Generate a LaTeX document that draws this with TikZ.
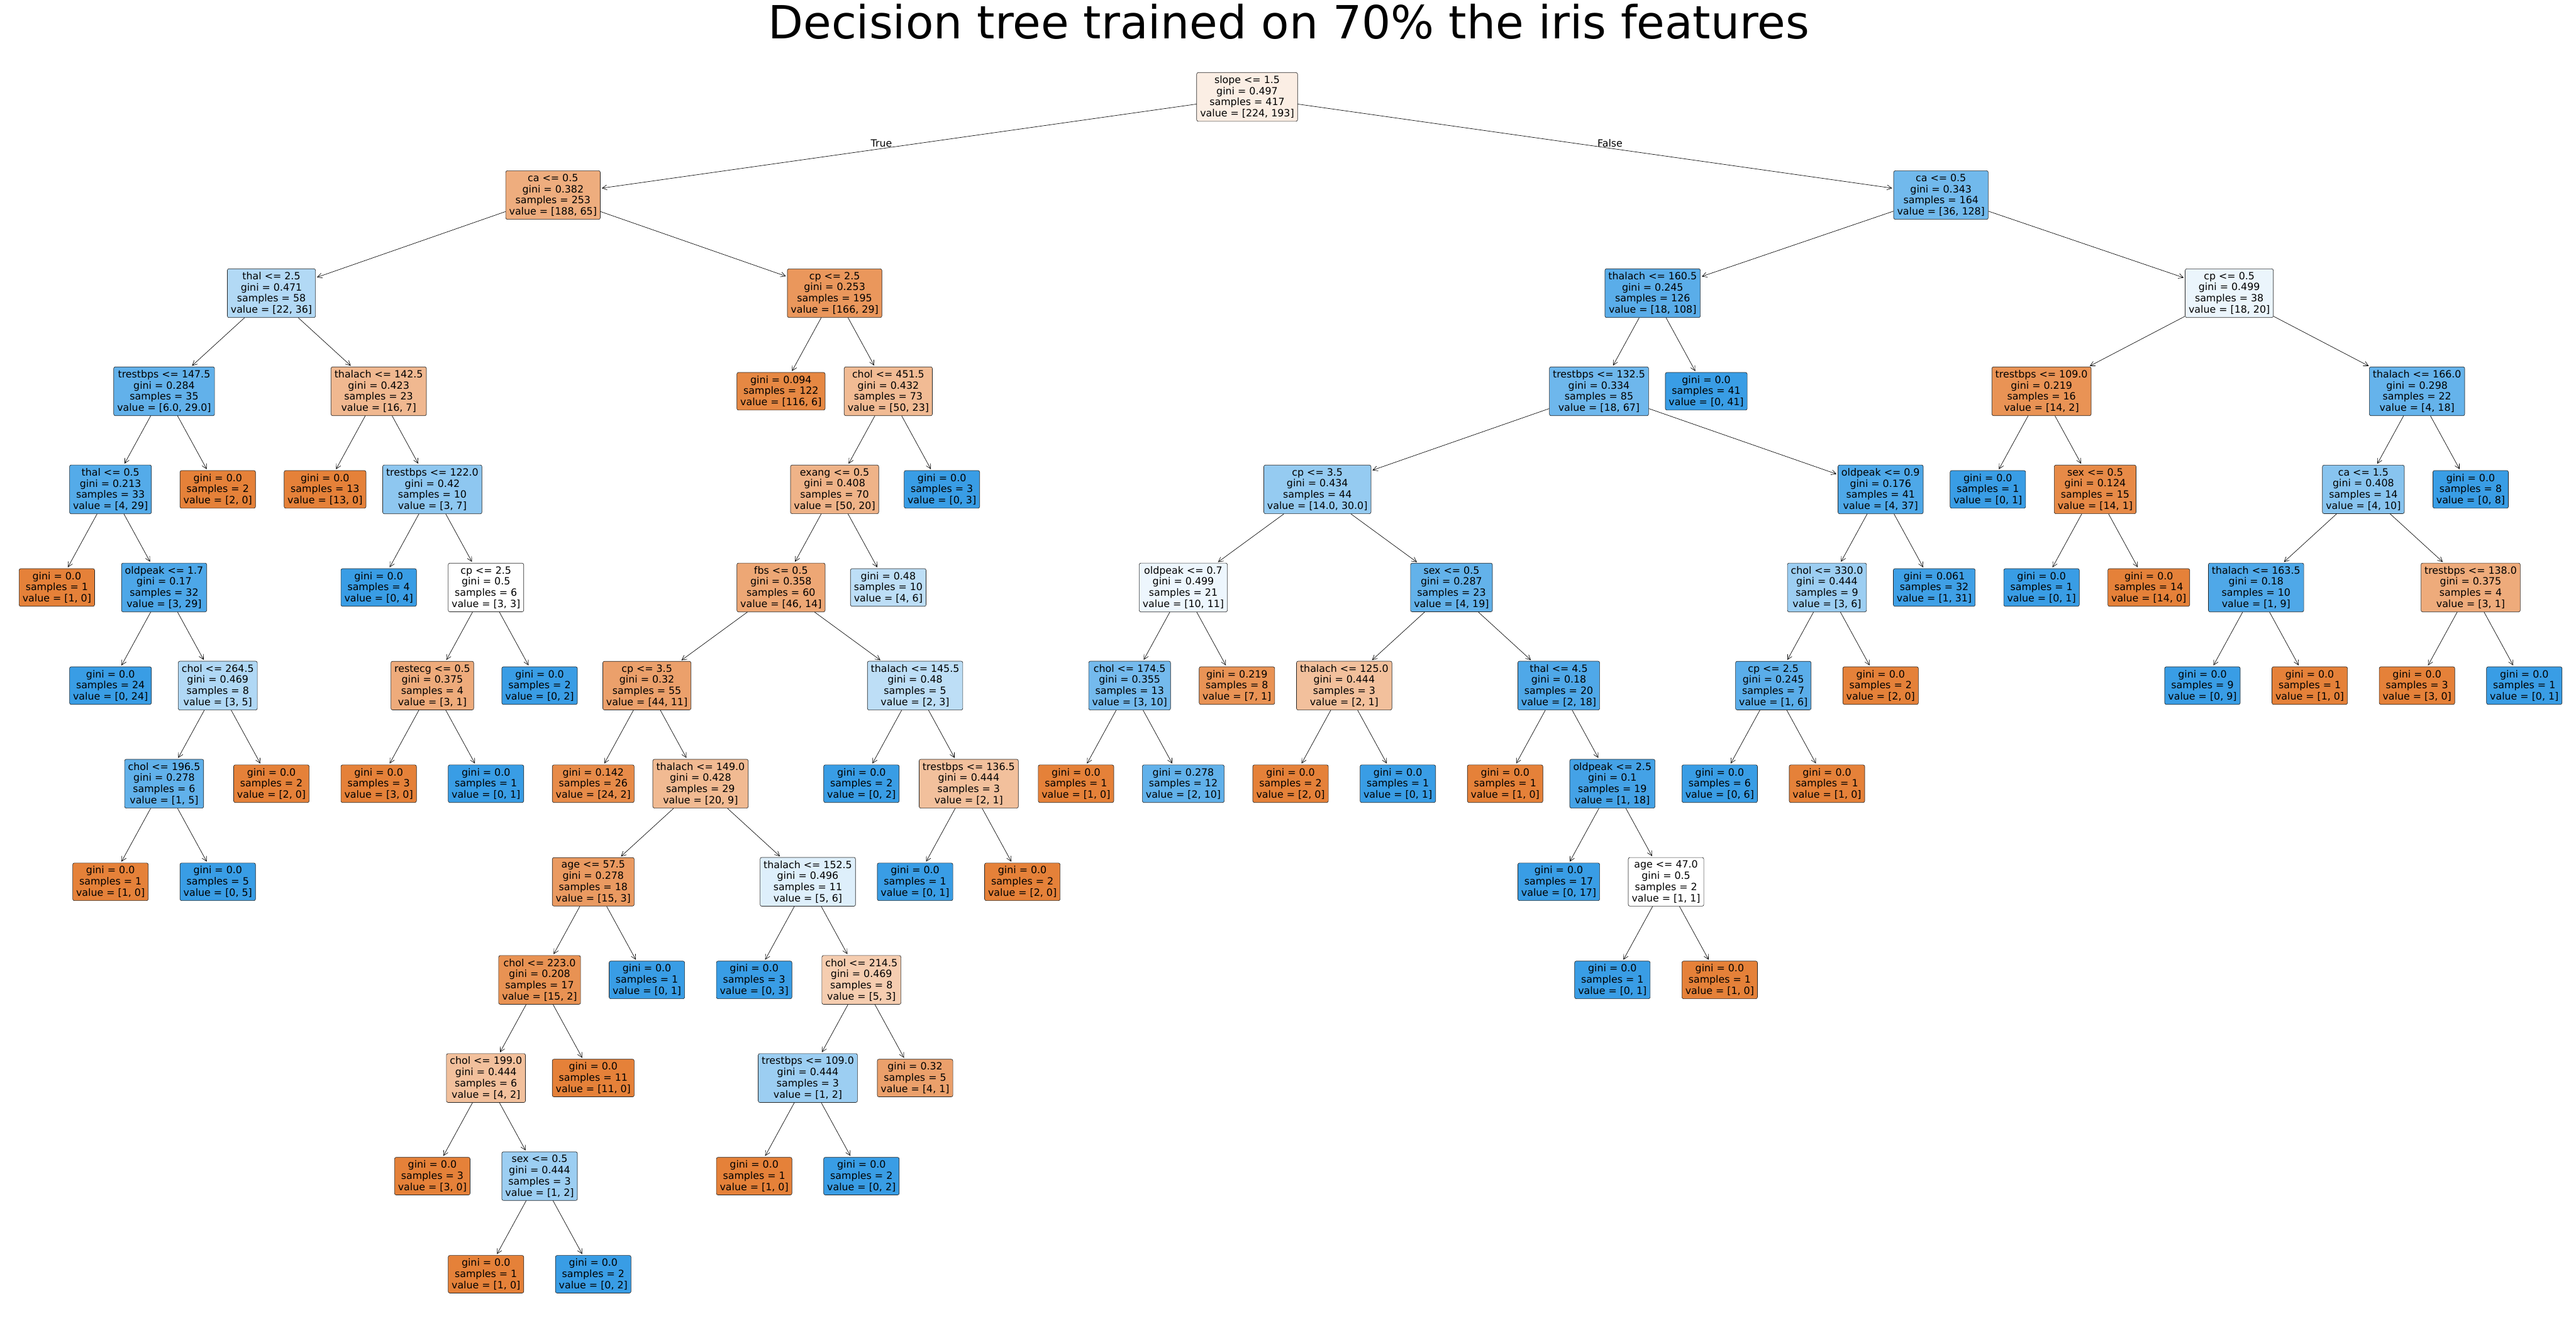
\documentclass[tikz,border=0pt]{standalone}
\usepackage{fontspec}
\setmainfont{DejaVu Sans}
\usetikzlibrary{arrows.meta}
\definecolor{c0}{RGB}{229,129,57}
\definecolor{c1}{RGB}{57,157,229}
\newcommand\DTsplit[4]{#1\\gini = #2\\samples = #3\\value = [#4]}
\newcommand\DTleaf[3]{gini = #1\\samples = #2\\value = [#3]}
\begin{document}
\begin{tikzpicture}[x=1pt,y=-1pt,
  box/.style={draw=black!85, line width=0.25pt, rounded corners=1pt, align=center,
    inner xsep=2.1pt, inner ysep=1.95pt, font=\fontsize{6.06}{6.8}\selectfont},
  org/.style={box, fill=c0!#1!white},
  blu/.style={box, fill=c1!#1!white},
  conn/.style={draw, line width=0.25pt, -{Straight Barb[length=2.9pt,width=3.0pt,line width=0.25pt]}, shorten >=0.8pt},
  lbl/.style={font=\fontsize{6.06}{6.8}\selectfont, inner sep=0pt, anchor=base},
  ttl/.style={font=\fontsize{27.8}{33}\selectfont, inner sep=0pt, anchor=base}]
\useasboundingbox (0,0) rectangle (1568,808);
\node[ttl] (title) at (784.5,23.6) {Decision tree trained on 70\% the iris features};
\begin{scope}[shift={(34.6pt,-59pt)}, x=32.65pt, y=-59.7pt]
% level 0
\node[org=13.8] (r) at (22.19,0) {\DTsplit{slope <= 1.5}{0.497}{417}{224, 193}};
% level 1
\node[org=65.4] (L) at (9.25,1) {\DTsplit{ca <= 0.5}{0.382}{253}{188, 65}};
\node[blu=71.9] (R) at (35.125,1) {\DTsplit{ca <= 0.5}{0.343}{164}{36, 128}};
% level 2
\node[blu=38.9] (LL) at (4,2) {\DTsplit{thal <= 2.5}{0.471}{58}{22, 36}};
\node[org=82.5] (LR) at (14.5,2) {\DTsplit{cp <= 2.5}{0.253}{195}{166, 29}};
\node[blu=83.3] (RL) at (29.75,2) {\DTsplit{thalach <= 160.5}{0.245}{126}{18, 108}};
\node[blu=10] (RR) at (40.5,2) {\DTsplit{cp <= 0.5}{0.499}{38}{18, 20}};
% level 3
\node[blu=79.3] (LLL) at (2,3) {\DTsplit{trestbps <= 147.5}{0.284}{35}{6.0, 29.0}};
\node[org=56.3] (LLR) at (6,3) {\DTsplit{thalach <= 142.5}{0.423}{23}{16, 7}};
\node[org=94.8] (LRL) at (13.5,3) {\DTleaf{0.094}{122}{116, 6}};
\node[org=54] (LRR) at (15.5,3) {\DTsplit{chol <= 451.5}{0.432}{73}{50, 23}};
\node[blu=73.1] (RLL) at (28.75,3) {\DTsplit{trestbps <= 132.5}{0.334}{85}{18, 67}};
\node[blu=100] (RLR) at (30.75,3) {\DTleaf{0.0}{41}{0, 41}};
\node[org=85.7] (RRL) at (37,3) {\DTsplit{trestbps <= 109.0}{0.219}{16}{14, 2}};
\node[blu=77.8] (RRR) at (44,3) {\DTsplit{thalach <= 166.0}{0.298}{22}{4, 18}};
% level 4
\node[blu=86.2] (LLLL) at (1,4) {\DTsplit{thal <= 0.5}{0.213}{33}{4, 29}};
\node[org=100] (LLLR) at (3,4) {\DTleaf{0.0}{2}{2, 0}};
\node[org=100] (LLRL) at (5,4) {\DTleaf{0.0}{13}{13, 0}};
\node[blu=57.1] (LLRR) at (7,4) {\DTsplit{trestbps <= 122.0}{0.42}{10}{3, 7}};
\node[org=60] (LRRL) at (14.5,4) {\DTsplit{exang <= 0.5}{0.408}{70}{50, 20}};
\node[blu=100] (LRRR) at (16.5,4) {\DTleaf{0.0}{3}{0, 3}};
\node[blu=53.3] (RLLL) at (23.5,4) {\DTsplit{cp <= 3.5}{0.434}{44}{14.0, 30.0}};
\node[blu=89.2] (RLLR) at (34,4) {\DTsplit{oldpeak <= 0.9}{0.176}{41}{4, 37}};
\node[blu=100] (RRLL) at (36,4) {\DTleaf{0.0}{1}{0, 1}};
\node[org=92.9] (RRLR) at (38,4) {\DTsplit{sex <= 0.5}{0.124}{15}{14, 1}};
\node[blu=60] (RRRL) at (43,4) {\DTsplit{ca <= 1.5}{0.408}{14}{4, 10}};
\node[blu=100] (RRRR) at (45,4) {\DTleaf{0.0}{8}{0, 8}};
% level 5
\node[org=100] (LLLLL) at (0,5) {\DTleaf{0.0}{1}{1, 0}};
\node[blu=89.7] (LLLLR) at (2,5) {\DTsplit{oldpeak <= 1.7}{0.17}{32}{3, 29}};
\node[blu=100] (LLRRL) at (6,5) {\DTleaf{0.0}{4}{0, 4}};
\node[blu=0] (LLRRR) at (8,5) {\DTsplit{cp <= 2.5}{0.5}{6}{3, 3}};
\node[org=69.6] (LRRLL) at (13.5,5) {\DTsplit{fbs <= 0.5}{0.358}{60}{46, 14}};
\node[blu=33.3] (LRRLR) at (15.5,5) {\DTleaf{0.48}{10}{4, 6}};
\node[blu=9.1] (RLLLL) at (21,5) {\DTsplit{oldpeak <= 0.7}{0.499}{21}{10, 11}};
\node[blu=78.9] (RLLLR) at (26,5) {\DTsplit{sex <= 0.5}{0.287}{23}{4, 19}};
\node[blu=50] (RLLRL) at (33,5) {\DTsplit{chol <= 330.0}{0.444}{9}{3, 6}};
\node[blu=96.8] (RLLRR) at (35,5) {\DTleaf{0.061}{32}{1, 31}};
\node[blu=100] (RRLRL) at (37,5) {\DTleaf{0.0}{1}{0, 1}};
\node[org=100] (RRLRR) at (39,5) {\DTleaf{0.0}{14}{14, 0}};
\node[blu=88.9] (RRRLL) at (41,5) {\DTsplit{thalach <= 163.5}{0.18}{10}{1, 9}};
\node[org=66.7] (RRRLR) at (45,5) {\DTsplit{trestbps <= 138.0}{0.375}{4}{3, 1}};
% level 6
\node[blu=100] (LLLLRL) at (1,6) {\DTleaf{0.0}{24}{0, 24}};
\node[blu=40] (LLLLRR) at (3,6) {\DTsplit{chol <= 264.5}{0.469}{8}{3, 5}};
\node[org=66.7] (LLRRRL) at (7,6) {\DTsplit{restecg <= 0.5}{0.375}{4}{3, 1}};
\node[blu=100] (LLRRRR) at (9,6) {\DTleaf{0.0}{2}{0, 2}};
\node[org=75] (LRRLLL) at (11,6) {\DTsplit{cp <= 3.5}{0.32}{55}{44, 11}};
\node[blu=33.3] (LRRLLR) at (16,6) {\DTsplit{thalach <= 145.5}{0.48}{5}{2, 3}};
\node[blu=70] (RLLLLL) at (20,6) {\DTsplit{chol <= 174.5}{0.355}{13}{3, 10}};
\node[org=85.7] (RLLLLR) at (22,6) {\DTleaf{0.219}{8}{7, 1}};
\node[org=50] (RLLLRL) at (24,6) {\DTsplit{thalach <= 125.0}{0.444}{3}{2, 1}};
\node[blu=88.9] (RLLLRR) at (28,6) {\DTsplit{thal <= 4.5}{0.18}{20}{2, 18}};
\node[blu=83.3] (RLLRLL) at (32,6) {\DTsplit{cp <= 2.5}{0.245}{7}{1, 6}};
\node[org=100] (RLLRLR) at (34,6) {\DTleaf{0.0}{2}{2, 0}};
\node[blu=100] (RRRLLL) at (40,6) {\DTleaf{0.0}{9}{0, 9}};
\node[org=100] (RRRLLR) at (42,6) {\DTleaf{0.0}{1}{1, 0}};
\node[org=100] (RRRLRL) at (44,6) {\DTleaf{0.0}{3}{3, 0}};
\node[blu=100] (RRRLRR) at (46,6) {\DTleaf{0.0}{1}{0, 1}};
% level 7
\node[blu=80] (LLLLRRL) at (2,7) {\DTsplit{chol <= 196.5}{0.278}{6}{1, 5}};
\node[org=100] (LLLLRRR) at (4,7) {\DTleaf{0.0}{2}{2, 0}};
\node[org=100] (LLRRRLL) at (6,7) {\DTleaf{0.0}{3}{3, 0}};
\node[blu=100] (LLRRRLR) at (8,7) {\DTleaf{0.0}{1}{0, 1}};
\node[org=91.7] (LRRLLLL) at (10,7) {\DTleaf{0.142}{26}{24, 2}};
\node[org=55] (LRRLLLR) at (12,7) {\DTsplit{thalach <= 149.0}{0.428}{29}{20, 9}};
\node[blu=100] (LRRLLRL) at (15,7) {\DTleaf{0.0}{2}{0, 2}};
\node[org=50] (LRRLLRR) at (17,7) {\DTsplit{trestbps <= 136.5}{0.444}{3}{2, 1}};
\node[org=100] (RLLLLLL) at (19,7) {\DTleaf{0.0}{1}{1, 0}};
\node[blu=80] (RLLLLLR) at (21,7) {\DTleaf{0.278}{12}{2, 10}};
\node[org=100] (RLLLRLL) at (23,7) {\DTleaf{0.0}{2}{2, 0}};
\node[blu=100] (RLLLRLR) at (25,7) {\DTleaf{0.0}{1}{0, 1}};
\node[org=100] (RLLLRRL) at (27,7) {\DTleaf{0.0}{1}{1, 0}};
\node[blu=94.4] (RLLLRRR) at (29,7) {\DTsplit{oldpeak <= 2.5}{0.1}{19}{1, 18}};
\node[blu=100] (RLLRLLL) at (31,7) {\DTleaf{0.0}{6}{0, 6}};
\node[org=100] (RLLRLLR) at (33,7) {\DTleaf{0.0}{1}{1, 0}};
% level 8
\node[org=100] (LLLLRRLL) at (1,8) {\DTleaf{0.0}{1}{1, 0}};
\node[blu=100] (LLLLRRLR) at (3,8) {\DTleaf{0.0}{5}{0, 5}};
\node[org=80] (LRRLLLRL) at (10,8) {\DTsplit{age <= 57.5}{0.278}{18}{15, 3}};
\node[blu=16.7] (LRRLLLRR) at (14,8) {\DTsplit{thalach <= 152.5}{0.496}{11}{5, 6}};
\node[blu=100] (LRRLLRRL) at (16,8) {\DTleaf{0.0}{1}{0, 1}};
\node[org=100] (LRRLLRRR) at (18,8) {\DTleaf{0.0}{2}{2, 0}};
\node[blu=100] (RLLLRRRL) at (28,8) {\DTleaf{0.0}{17}{0, 17}};
\node[blu=0] (RLLLRRRR) at (30,8) {\DTsplit{age <= 47.0}{0.5}{2}{1, 1}};
% level 9
\node[org=86.7] (LRRLLLRLL) at (9,9) {\DTsplit{chol <= 223.0}{0.208}{17}{15, 2}};
\node[blu=100] (LRRLLLRLR) at (11,9) {\DTleaf{0.0}{1}{0, 1}};
\node[blu=100] (LRRLLLRRL) at (13,9) {\DTleaf{0.0}{3}{0, 3}};
\node[org=40] (LRRLLLRRR) at (15,9) {\DTsplit{chol <= 214.5}{0.469}{8}{5, 3}};
\node[blu=100] (RLLLRRRRL) at (29,9) {\DTleaf{0.0}{1}{0, 1}};
\node[org=100] (RLLLRRRRR) at (31,9) {\DTleaf{0.0}{1}{1, 0}};
% level 10
\node[org=50] (LRRLLLRLLL) at (8,10) {\DTsplit{chol <= 199.0}{0.444}{6}{4, 2}};
\node[org=100] (LRRLLLRLLR) at (10,10) {\DTleaf{0.0}{11}{11, 0}};
\node[blu=50] (LRRLLLRRRL) at (14,10) {\DTsplit{trestbps <= 109.0}{0.444}{3}{1, 2}};
\node[org=75] (LRRLLLRRRR) at (16,10) {\DTleaf{0.32}{5}{4, 1}};
% level 11
\node[org=100] (LRRLLLRLLLL) at (7,11) {\DTleaf{0.0}{3}{3, 0}};
\node[blu=50] (LRRLLLRLLLR) at (9,11) {\DTsplit{sex <= 0.5}{0.444}{3}{1, 2}};
\node[org=100] (LRRLLLRRRLL) at (13,11) {\DTleaf{0.0}{1}{1, 0}};
\node[blu=100] (LRRLLLRRRLR) at (15,11) {\DTleaf{0.0}{2}{0, 2}};
% level 12
\node[org=100] (LRRLLLRLLLRL) at (8,12) {\DTleaf{0.0}{1}{1, 0}};
\node[blu=100] (LRRLLLRLLLRR) at (10,12) {\DTleaf{0.0}{2}{0, 2}};
\end{scope}
% connectors
\foreach \p/\c in {r/L, r/R,
  L/LL, L/LR, R/RL, R/RR,
  LL/LLL, LL/LLR, LR/LRL, LR/LRR, RL/RLL, RL/RLR, RR/RRL, RR/RRR,
  LLL/LLLL, LLL/LLLR, LLR/LLRL, LLR/LLRR, LRR/LRRL, LRR/LRRR, RLL/RLLL, RLL/RLLR, RRL/RRLL, RRL/RRLR, RRR/RRRL, RRR/RRRR,
  LLLL/LLLLL, LLLL/LLLLR, LLRR/LLRRL, LLRR/LLRRR, LRRL/LRRLL, LRRL/LRRLR, RLLL/RLLLL, RLLL/RLLLR, RLLR/RLLRL, RLLR/RLLRR, RRLR/RRLRL, RRLR/RRLRR, RRRL/RRRLL, RRRL/RRRLR,
  LLLLR/LLLLRL, LLLLR/LLLLRR, LLRRR/LLRRRL, LLRRR/LLRRRR, LRRLL/LRRLLL, LRRLL/LRRLLR, RLLLL/RLLLLL, RLLLL/RLLLLR, RLLLR/RLLLRL, RLLLR/RLLLRR, RLLRL/RLLRLL, RLLRL/RLLRLR, RRRLL/RRRLLL, RRRLL/RRRLLR, RRRLR/RRRLRL, RRRLR/RRRLRR,
  LLLLRR/LLLLRRL, LLLLRR/LLLLRRR, LLRRRL/LLRRRLL, LLRRRL/LLRRRLR, LRRLLL/LRRLLLL, LRRLLL/LRRLLLR, LRRLLR/LRRLLRL, LRRLLR/LRRLLRR, RLLLLL/RLLLLLL, RLLLLL/RLLLLLR, RLLLRL/RLLLRLL, RLLLRL/RLLLRLR, RLLLRR/RLLLRRL, RLLLRR/RLLLRRR, RLLRLL/RLLRLLL, RLLRLL/RLLRLLR,
  LLLLRRL/LLLLRRLL, LLLLRRL/LLLLRRLR, LRRLLLR/LRRLLLRL, LRRLLLR/LRRLLLRR, LRRLLRR/LRRLLRRL, LRRLLRR/LRRLLRRR, RLLLRRR/RLLLRRRL, RLLLRRR/RLLLRRRR,
  LRRLLLRL/LRRLLLRLL, LRRLLLRL/LRRLLLRLR, LRRLLLRR/LRRLLLRRL, LRRLLLRR/LRRLLLRRR, RLLLRRRR/RLLLRRRRL, RLLLRRRR/RLLLRRRRR,
  LRRLLLRLL/LRRLLLRLLL, LRRLLLRLL/LRRLLLRLLR, LRRLLLRRR/LRRLLLRRRL, LRRLLLRRR/LRRLLLRRRR,
  LRRLLLRLLL/LRRLLLRLLLL, LRRLLLRLLL/LRRLLLRLLLR, LRRLLLRRRL/LRRLLLRRRLL, LRRLLLRRRL/LRRLLLRRRLR,
  LRRLLLRLLLR/LRRLLLRLLLRL, LRRLLLRLLLR/LRRLLLRLLLRR}
  {\draw[conn] (\p) -- (\c);}
% branch labels
\node[lbl] (lblTrue) at (536.5,89.2) {True};
\node[lbl] (lblFalse) at (980,89.2) {False};
\end{tikzpicture}
\end{document}
